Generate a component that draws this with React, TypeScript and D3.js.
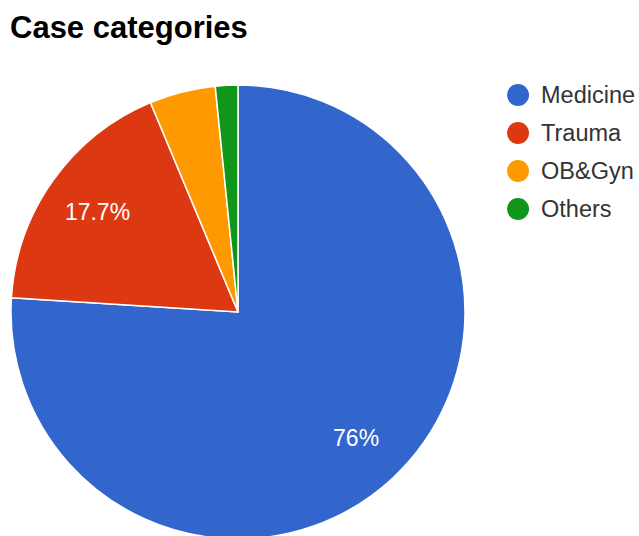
import React from "react";
import * as d3 from "d3";

const categories = ["Medicine", "Trauma", "OB&Gyn", "Others"];
const values = [76, 17.7, 4.7, 1.6];
const colors = ["#3366cc", "#dc3912", "#ff9900", "#109618"];
const labels = ["76%", "17.7%", "", ""];

const W = 639;
const H = 536;

export default function App() {
  const cx = 238;
  const cy = 312;
  const r = 227;
  const data = categories.map((c, i) => ({ c, v: values[i], color: colors[i], label: labels[i] }));
  const pie = d3.pie<any>().value((d) => d.v).sort(null);
  const arcs = pie(data);
  const arc = d3.arc<any>().innerRadius(0).outerRadius(r);
  const labelArc = d3.arc<any>().innerRadius(r * 0.76).outerRadius(r * 0.76);
  const legendY = d3.scalePoint<string>().domain(categories).range([95, 209]);

  return (
    <svg
      width={W}
      height={H}
      style={{ position: "absolute", left: 0, top: 0, background: "#fff" }}
      fontFamily="'Liberation Sans', Arial, sans-serif"
    >
      <rect width={W} height={H} fill="#fff" />
      <text x={10} y={38} fontSize={31} fontWeight="bold" fill="#000">
        Case categories
      </text>
      <g transform={`translate(${cx},${cy})`}>
        {arcs.map((a, i) => (
          <path key={i} d={arc(a) as string} fill={a.data.color} stroke="#fff" strokeWidth={1.5} />
        ))}
        {arcs.map((a, i) => {
          if (!a.data.label) return null;
          const [x, y] = labelArc.centroid(a);
          return (
            <text key={"l" + i} x={x} y={y} fill="#fff" fontSize={23} textAnchor="middle" dominantBaseline="central">
              {a.data.label}
            </text>
          );
        })}
      </g>
      {categories.map((c, i) => (
        <g key={c} transform={`translate(518,${legendY(c)})`}>
          <circle r={11} fill={colors[i]} />
          <text x={23} y={0} fontSize={23.5} fill="#333" dominantBaseline="central">
            {c}
          </text>
        </g>
      ))}
    </svg>
  );
}
